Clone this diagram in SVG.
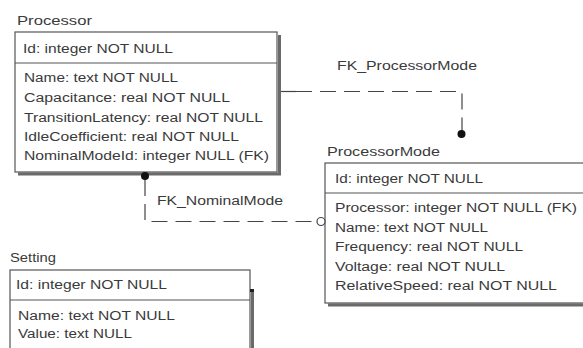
<svg xmlns="http://www.w3.org/2000/svg" width="583" height="348" viewBox="0 0 583 348">
<style>
text{font-family:"Liberation Sans",Arial,sans-serif;font-size:12.5px;fill:#3a3a3a}
.box{fill:#fff;stroke:#555;stroke-width:1.2}
.div{stroke:#555;stroke-width:1.2}
.shadow{fill:none;stroke:#6a6a6a;stroke-width:3}
.conn{fill:none;stroke:#444;stroke-width:1.2;stroke-dasharray:16 8}
</style>
<rect width="583" height="348" fill="#fff"/>
<g id="Processor">
  <path class="shadow" d="M279.5 35 V174 H18"/>
  <rect class="box" x="15" y="32" width="262" height="140"/>
  <line class="div" x1="15" y1="63" x2="277" y2="63"/>
  <text x="17" y="25" textLength="75" lengthAdjust="spacingAndGlyphs">Processor</text>
  <text x="23" y="53" textLength="150" lengthAdjust="spacingAndGlyphs">Id: integer NOT NULL</text>
  <text x="24" y="82" textLength="154" lengthAdjust="spacingAndGlyphs">Name: text NOT NULL</text>
  <text x="24" y="102" textLength="206" lengthAdjust="spacingAndGlyphs">Capacitance: real NOT NULL</text>
  <text x="24" y="122" textLength="239" lengthAdjust="spacingAndGlyphs">TransitionLatency: real NOT NULL</text>
  <text x="24" y="141" textLength="215" lengthAdjust="spacingAndGlyphs">IdleCoefficient: real NOT NULL</text>
  <text x="24" y="160" textLength="245" lengthAdjust="spacingAndGlyphs">NominalModeId: integer NULL (FK)</text>
</g>
<g id="ProcessorMode">
  <path class="shadow" d="M328 305 H590"/>
  <rect class="box" x="325" y="163" width="262" height="140"/>
  <line class="div" x1="325" y1="193" x2="587" y2="193"/>
  <text x="327" y="156" textLength="113" lengthAdjust="spacingAndGlyphs">ProcessorMode</text>
  <text x="335" y="183" textLength="148" lengthAdjust="spacingAndGlyphs">Id: integer NOT NULL</text>
  <text x="335" y="212" textLength="242" lengthAdjust="spacingAndGlyphs">Processor: integer NOT NULL (FK)</text>
  <text x="335" y="232" textLength="153" lengthAdjust="spacingAndGlyphs">Name: text NOT NULL</text>
  <text x="335" y="251" textLength="188" lengthAdjust="spacingAndGlyphs">Frequency: real NOT NULL</text>
  <text x="335" y="271" textLength="170" lengthAdjust="spacingAndGlyphs">Voltage: real NOT NULL</text>
  <text x="335" y="290" textLength="222" lengthAdjust="spacingAndGlyphs">RelativeSpeed: real NOT NULL</text>
</g>
<g id="Setting">
  <path class="shadow" d="M252.5 292 V352"/>
  <rect class="box" x="10" y="270" width="240" height="85"/>
  <line class="div" x1="10" y1="300" x2="250" y2="300"/>
  <rect x="250" y="289" width="4" height="3" fill="#222"/>
  <text x="10" y="262" textLength="46" lengthAdjust="spacingAndGlyphs">Setting</text>
  <text x="16" y="289" textLength="151" lengthAdjust="spacingAndGlyphs">Id: integer NOT NULL</text>
  <text x="18" y="320" textLength="157" lengthAdjust="spacingAndGlyphs">Name: text NOT NULL</text>
  <text x="18" y="338" textLength="114" lengthAdjust="spacingAndGlyphs">Value: text NULL</text>
</g>
<g id="connectors">
  <g id="FK_ProcessorMode">
    <line x1="281" y1="91.5" x2="296" y2="91.5" stroke="#444" stroke-width="1.2"/>
    <path class="conn" d="M296 91.5 H462 V131"/>
    <circle cx="461.5" cy="134" r="4" fill="#111"/>
    <text x="337" y="70" textLength="140" lengthAdjust="spacingAndGlyphs">FK_ProcessorMode</text>
  </g>
  <g id="FK_NominalMode">
    <circle cx="145" cy="176" r="4" fill="#111"/>
    <path class="conn" d="M145 180 V221.5 H317"/>
    <circle cx="321" cy="221.5" r="4" fill="#fff" stroke="#444" stroke-width="1.2"/>
    <text x="157" y="205" textLength="126" lengthAdjust="spacingAndGlyphs">FK_NominalMode</text>
  </g>
</g>
</svg>
